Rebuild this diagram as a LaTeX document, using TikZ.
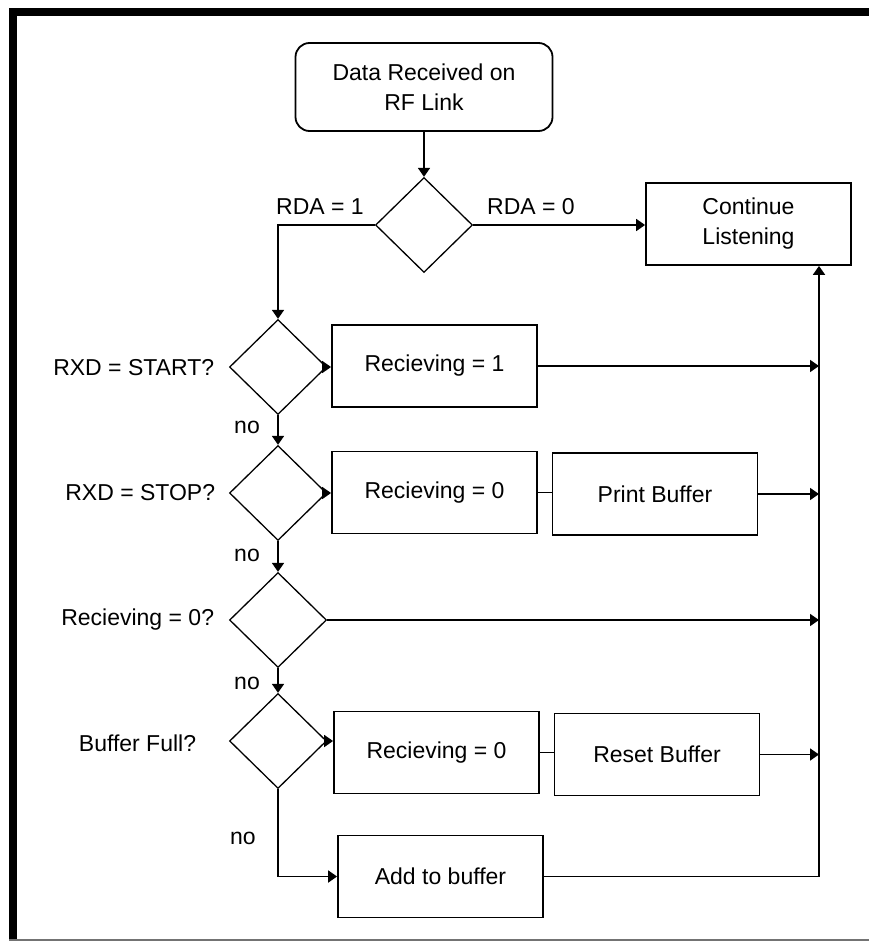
\documentclass[tikz,border=0pt]{standalone}
\usepackage{fontspec}
\setmainfont{Liberation Sans}
\usetikzlibrary{shapes.geometric,arrows.meta}

\begin{document}
\begin{tikzpicture}[x=1pt,y=-1pt,line width=1.8pt,>={Triangle[length=9pt,width=12pt]}]
        \tikzstyle{every node}=[font=\fontsize{23}{30}\selectfont]
        \tikzstyle{box}=[draw,rectangle,minimum width=205pt,minimum height=82pt,align=center]
        \tikzstyle{decision}=[draw,diamond,minimum width=97pt,minimum height=95pt,inner sep=0pt,line width=1.3pt]
        \tikzstyle{lbl}=[inner sep=0pt]
        \useasboundingbox (0,0) rectangle (869,942);
        % frame
        \fill (9,8) rectangle (869,16);
        \fill (9,8) rectangle (17,941);
        \fill [black!55] (9,939) rectangle (869,941);
        % nodes
        \node [box,rounded corners=14pt,minimum width=257pt,minimum height=88pt] (start) at (424,87) {Data Received on\\RF Link};
        \node [decision] (d1) at (424,225) {};
        \node [box] (cont) at (748.5,224) {Continue\\Listening};
        \node [decision] (d2) at (278,367) {};
        \node [box] (b1) at (434.5,366) {Recieving = 1};
        \node [decision] (d3) at (278,493) {};
        \node [box] (b2) at (434.5,492.5) {Recieving = 0};
        \node [box] (pb) at (655,494) {Print Buffer};
        \node [decision] (d4) at (278,620) {};
        \node [decision] (d5) at (278,741) {};
        \node [box] (b3) at (436.5,752.5) {Recieving = 0};
        \node [box] (rb) at (657,754.5) {Reset Buffer};
        \node [box] (ab) at (440.5,876.5) {Add to buffer};
        \coordinate (rx) at (819,0);
        % labels
        \node [lbl] (rda1) at (320,207) {RDA = 1};
        \node [lbl] (rda0) at (531,207) {RDA = 0};
        \node [lbl,anchor=east] (q1) at (215,368) {RXD = START?};
        \node [lbl,anchor=east] (q2) at (216,493) {RXD = STOP?};
        \node [lbl,anchor=east] (q3) at (215,620) {Recieving = 0?};
        \node [lbl,anchor=east] (q4) at (197,743) {Buffer Full?};
        \node [lbl] (no1) at (247,427) {no};
        \node [lbl] (no2) at (247,555) {no};
        \node [lbl] (no3) at (247,683) {no};
        \node [lbl] (no4) at (243,838) {no};
        % connectors
        \draw [->] (start.south) -- (d1.north);
        \draw [->] (d1.west) -| (d2.north);
        \draw [->] (d1.east) -- (d1.east -| cont.west);
        \draw [->] (d2.east) -- (d2.east -| b1.west);
        \draw [->] (b1.east) -- (b1.east -| rx);
        \draw [->] (d2.south) -- (d3.north);
        \draw [->] (d3.east) -- (d3.east -| b2.west);
        \draw (b2.east) -- (b2.east -| pb.west);
        \draw [->] (pb.east) -- (pb.east -| rx);
        \draw [->] (d3.south) -- (d4.north);
        \draw [->] (d4.east) -- (d4.east -| rx);
        \draw [->] (d4.south) -- (d5.north);
        \draw [->] (d5.east) -- (d5.east -| b3.west);
        \draw (b3.east) -- (b3.east -| rb.west);
        \draw [->] (rb.east) -- (rb.east -| rx);
        \draw [->] (d5.south) |- (ab.west);
        \draw [->] (ab.east) -| (rx |- cont.south);
\end{tikzpicture}
\end{document}
